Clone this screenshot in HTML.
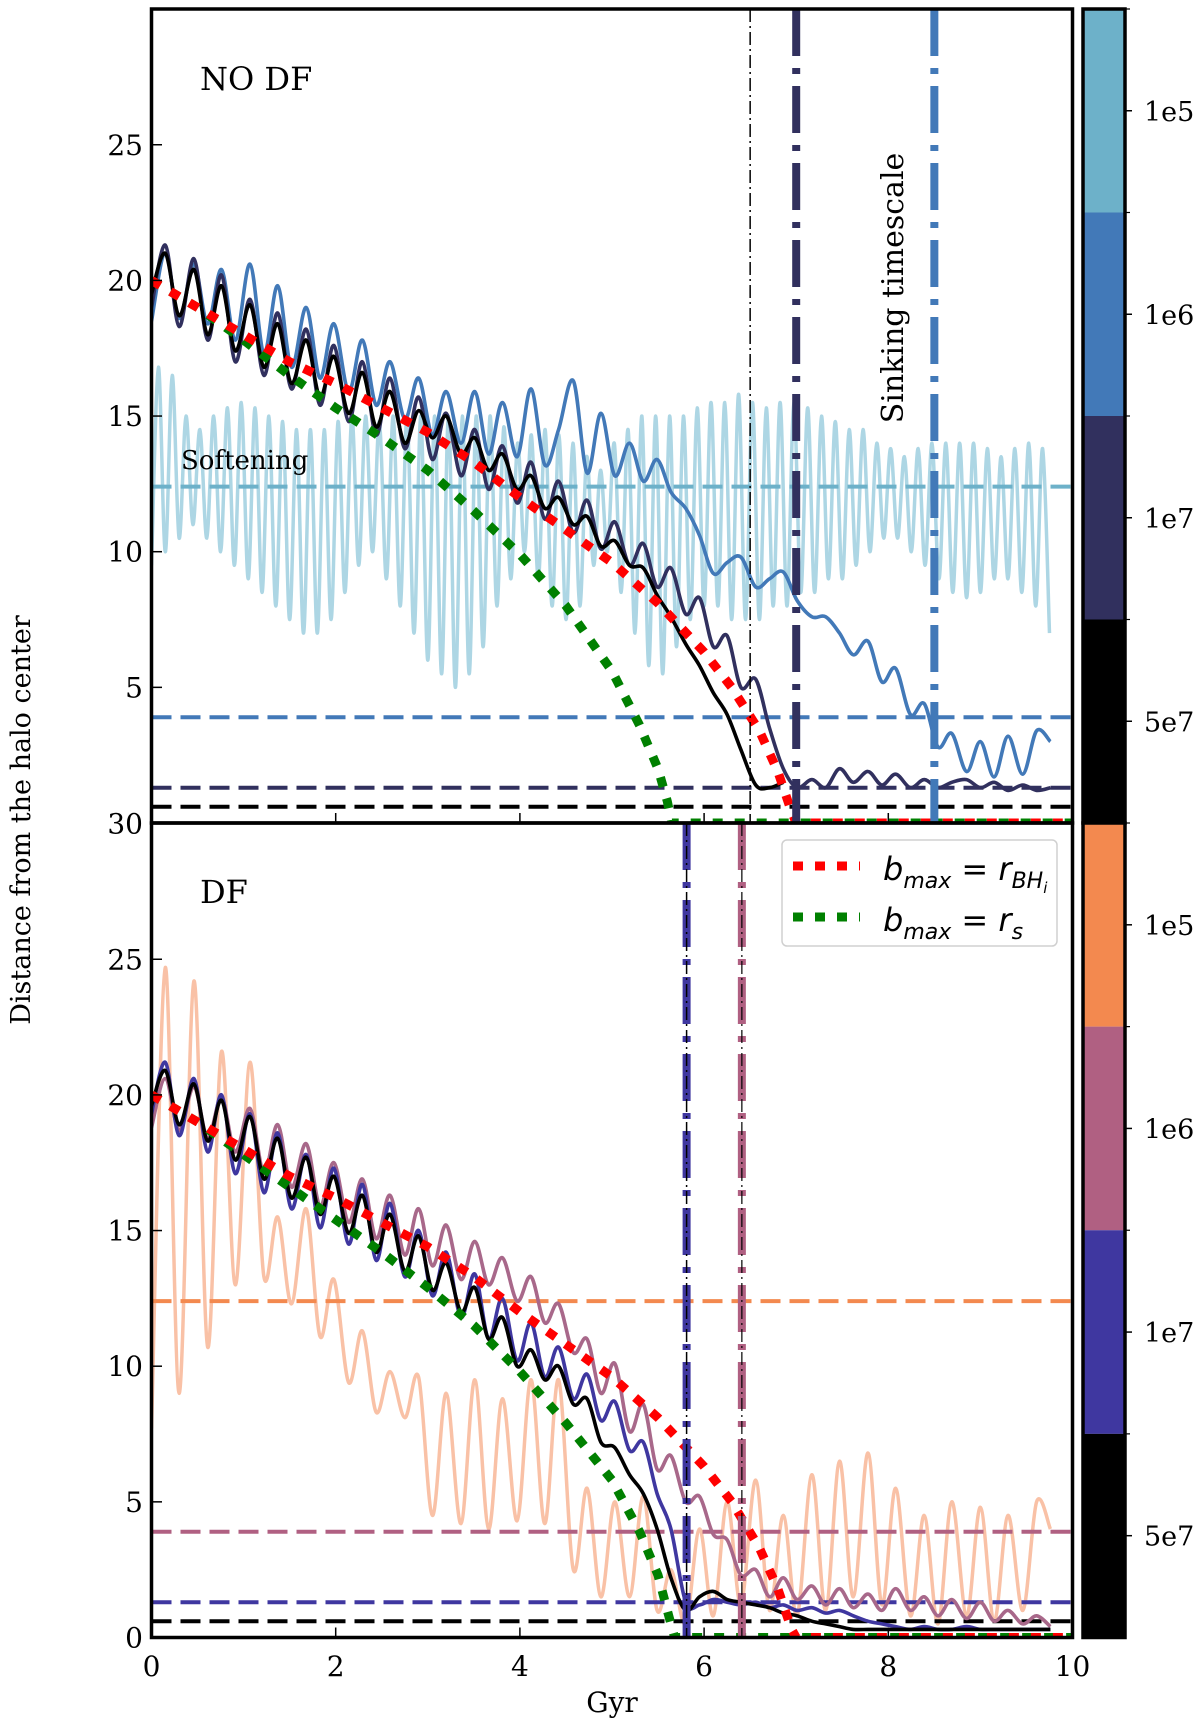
<!DOCTYPE html>
<html><head><meta charset="utf-8"><style>
html,body{margin:0;padding:0;background:#fff;}
svg{display:block;}
text{font-family:"DejaVu Serif","Liberation Serif",serif;fill:#000;}
</style></head><body>
<svg id="chart" width="1200" height="1725" viewBox="0 0 1200 1725" xmlns="http://www.w3.org/2000/svg">
<defs>
<clipPath id="clipTop"><rect x="151.5" y="9" width="921" height="814"/></clipPath>
<clipPath id="clipBot"><rect x="151.5" y="823" width="921" height="814.5"/></clipPath>
</defs>
<g id="topLayer" clip-path="url(#clipTop)"></g>
<g id="botLayer" clip-path="url(#clipBot)"></g>
<g id="axes"></g>

<text x="200" y="90" font-size="32">NO DF</text>
<text x="200" y="903" font-size="32">DF</text>
<text x="181" y="469" font-size="26">Softening</text>
<text x="0" y="0" font-size="30" text-anchor="middle" transform="translate(903,288) rotate(-90)">Sinking timescale</text>
<text x="0" y="0" font-size="27" text-anchor="middle" transform="translate(30,820) rotate(-90)">Distance from the halo center</text>
<text x="612" y="1712" font-size="28" text-anchor="middle">Gyr</text>

<g>
<rect x="782" y="840" width="275" height="106" rx="5" fill="#fff" fill-opacity="0.85" stroke="#d0d0d0" stroke-width="1.5"/>
<line x1="793" y1="866" x2="860" y2="866" stroke="#ff0000" stroke-width="9" stroke-dasharray="10 12"/>
<text x="883" y="880" font-size="32" style="font-family:'DejaVu Sans',sans-serif;font-style:italic">b<tspan font-size="22" dy="8">max</tspan><tspan dy="-8" font-style="normal"> = </tspan>r<tspan font-size="22" dy="8">BH</tspan><tspan font-size="15" dy="5">i</tspan></text>
<line x1="793" y1="917" x2="860" y2="917" stroke="#008000" stroke-width="9" stroke-dasharray="10 12"/>
<text x="883" y="931" font-size="32" style="font-family:'DejaVu Sans',sans-serif;font-style:italic">b<tspan font-size="22" dy="8">max</tspan><tspan dy="-8" font-style="normal"> = </tspan>r<tspan font-size="22" dy="8">s</tspan></text>
</g>
</svg>
<script>
// ---------- data ----------
const xTicks = [0, 2, 4, 6, 8, 10];
const yTicksTop = [5, 10, 15, 20, 25];
const yTicksBot = [0, 5, 10, 15, 20, 25, 30];
const cbLabels = ["1e5", "1e6", "1e7", "5e7"];
const cbTopColors = ["#6db1c9", "#4279b8", "#31305e", "#000000"];
const cbBotColors = ["#f3894f", "#b06082", "#3f37a0", "#000000"];
const softTop = [12.4, 3.9, 1.3, 0.6];
const softBot = [12.4, 3.9, 1.3, 0.6];
const sinkTop = [7.0, 8.5];
const sinkTopThin = 6.5;
const sinkBot = [5.81, 6.41];

// extrema times of orbit oscillations (Gyr)
const oscT = [0,0.15,0.3,0.46,0.61,0.76,0.91,1.07,1.22,1.37,1.52,1.68,1.83,1.98,2.14,2.29,2.44,2.59,2.75,2.9,3.05,3.2,3.36,3.51,3.66,3.81,3.97,4.12,4.27,4.42,4.58,4.73,4.88,5.03,5.19,5.34,5.49,5.64,5.8,5.95,6.1,6.25,6.4,6.56,6.71,6.86,7.01,7.17,7.32,7.47,7.62,7.78,7.93,8.08,8.24,8.39,8.54,8.69,8.85,9.0,9.15,9.3,9.46,9.61,9.76];
const lbStart = 0, lbStep = 0.075;

const lightTopV = [9.5,16.8,10,16.5,10.5,15,11,14.5,10.5,15,10,15.3,9.5,15.5,9,15.3,8.5,15,8,14.8,7.5,14.5,7,14.5,7,14.5,7.5,14.8,8.5,15,9.5,15,10,14.8,9,15,8,15,7,15,6,15,5.5,15,5,15,5.5,15,6.5,15,8,14.6,9,14,10,14.3,9,14.5,8,14.3,7.5,14,8,13.5,9.5,13,10,14,8.5,14.5,7,15,5.8,15,5.5,15,6.5,15,7.5,15.3,8,15.5,8,15.5,7.5,15.8,7.5,15.5,7.5,15.3,8,15.5,8,15.5,8.5,15.3,8.5,15,9,14.8,9,14.5,9.5,14.5,10,14,10.5,13.8,10.5,13.5,10,13.8,9.5,14,9,14,8.5,14,8.3,14,8.5,13.8,9,13.5,9,13.8,8.5,14,8,13.8,7];
const blueTopV = [18.5,21,18.6,20.6,18.4,20.4,17.8,20.6,17.3,19.8,16.8,19,16.4,18.4,15.9,17.8,15.4,17,14.9,16.4,14.3,15.9,14,15.9,13.6,15.5,13.5,16,13.2,14.5,16.3,12.9,15.1,12.8,14,12.6,13.4,12.2,11.6,10.6,9.2,9.6,9.8,8.7,9,9.25,8.2,7.6,7.6,7,6.2,6.7,5.2,5.7,4,4.4,2.8,3.3,1.9,3,1.7,3.2,1.8,3.4,3];
const navyTopV = [19,21.3,18.3,20.8,17.8,20.2,17,19.3,16.5,18.8,16,18.2,15.4,17.6,14.8,17,14.3,16.4,13.8,15.7,13.4,15.1,12.8,14.5,12.3,13.9,11.8,13.3,11.2,12.6,10.7,11.9,10.1,11.1,9.5,10.3,8.7,9.4,7.7,8.3,6.5,6.9,5,5.3,3.5,2,1.3,1.6,1.3,2,1.5,1.9,1.4,1.8,1.3,1.6,1.3,1.5,1.6,1.3,1.5,1.2,1.4,1.2,1.3];
const blackTopV = [19.5,21,18.7,20.4,18,19.8,17.4,19.1,16.8,18.4,16.2,17.8,15.7,17.2,15.1,16.6,14.6,15.9,14,15.2,14.2,15,13.6,14.2,13,13.6,12.3,12.8,11.6,12,11,11.3,10.2,10.4,9.5,9.4,8.4,7.6,6.6,5.8,4.8,4,2.7,1.4,1.3,1.5];
const redTopT = [0,0.5,1,1.5,2,2.5,3,3.5,4,4.5,5,5.5,6,6.3,6.6,6.8,6.95,7.0,10];
const redTopV = [20,19,18,17,16.2,15.3,14.4,13.3,12,10.8,9.6,8.1,6.3,5,3.4,1.9,0.4,0,0];
const greenTopT = [0,0.5,1,1.5,2,2.5,3,3.5,4,4.5,5,5.3,5.5,5.6,5.65,10];
const greenTopV = [20,19,17.8,16.5,15.3,14.2,13,11.5,9.9,8,5.6,3.6,2,0.8,0,0];

const orangeBotV = [7.7,24.7,9,24.2,10.7,21.6,13,21.2,13.3,15.5,12.3,15.8,11.1,13.2,9.4,11.3,8.3,9.8,8.1,9.6,4.5,9,4.2,9.5,4,8.8,4.3,9.5,4.2,9.5,2.5,5.5,1.5,5,1.5,5.2,1,2.5,0.5,4,0.8,5,1.2,5.8,1,4.5,0.8,6,1,6.5,1.5,6.8,1.2,5.5,0.8,4.5,0.5,5,0.8,4.8,0.6,4.5,1,5,4];
const mauveBotV = [18.8,20.6,18.7,20.3,18.4,19.9,17.9,19.5,17.1,18.9,16.6,18.2,15.9,17.5,15.3,16.9,14.7,16.3,14.1,15.8,13.7,15.2,13.2,14.6,13,14,12.4,13.3,11.6,12.3,10.5,11,9,10.1,7.6,8.6,6.2,6.7,5,5.2,3.8,3.6,2.3,2.5,1.5,2.2,1.4,1.9,1.2,1.8,1.1,1.6,1,1.8,1,1.5,0.8,1.4,0.7,1.3,0.6,1,0.5,0.8,0.4];
const indigoBotV = [19.3,21.2,18.5,20.6,17.9,20,17.1,19.3,16.4,18.6,15.8,17.8,15.1,17.3,14.5,16.7,13.9,16,13.3,15,12.6,14.2,11.8,13.4,11,12.5,10.2,11.6,9.6,10.7,8.8,9.7,8,8.7,6.9,7.2,5.3,4,1.3,1.2,1.4,1.3,1.2,1.3,1.1,1.2,1,1.1,0.9,1,0.8,0.6,0.5,0.4,0.3,0.4,0.3,0.3,0.4,0.3,0.3,0.3,0.3,0.3,0.3];
const blackBotV = [19.6,20.9,18.9,20.4,18.3,19.8,17.6,19.2,16.9,18.4,16.2,17.7,15.6,17,14.9,16.3,14.2,15.6,13.5,14.8,12.8,13.8,12,12.9,11,11.8,10,10.6,9.5,10,8.6,8.8,7.2,7,6,5.3,4,2.2,1,1.5,1.7,1.4,1.3,1.2,1.1,0.9,0.8,0.6,0.5,0.4,0.3,0.3,0.3,0.3,0.3,0.3,0.3,0.3,0.3,0.3,0.3,0.3,0.3,0.3,0.3];
const redBotT = [0,0.5,1,1.5,2,2.5,3,3.5,4,4.5,5,5.5,6,6.3,6.6,6.8,6.95,7.0,10];
const redBotV = [20,19,18,17,16.2,15.3,14.4,13.3,12,10.8,9.6,8.1,6.3,5,3.3,1.8,0.3,0,0];
const greenBotT = [0,0.5,1,1.5,2,2.5,3,3.5,4,4.5,5,5.3,5.5,5.6,5.68,10];
const greenBotV = [20,19,17.8,16.6,15.4,14.2,12.9,11.5,9.8,7.9,5.8,3.9,2.3,1,0,0];

// ---------- scales ----------
const X0 = 151.5, XS = 92.1, YU = 27.13;
const TOP0 = 823, BOT0 = 1637.5;
function xS(t){ return X0 + t*XS; }
function yTop(v){ return TOP0 - v*YU; }
function yBot(v){ return BOT0 - v*YU; }
const NS = "http://www.w3.org/2000/svg";
function mk(tag, attrs, parent){ const e=document.createElementNS(NS,tag); for(const k in attrs) e.setAttribute(k,attrs[k]); parent.appendChild(e); return e; }
function smoothPath(pts){
  let d = "M"+pts[0][0].toFixed(1)+","+pts[0][1].toFixed(1);
  for(let i=0;i<pts.length-1;i++){
    const p0=pts[Math.max(0,i-1)], p1=pts[i], p2=pts[i+1], p3=pts[Math.min(pts.length-1,i+2)];
    const c1x=p1[0]+(p2[0]-p0[0])/6, c1y=p1[1]+(p2[1]-p0[1])/6;
    const c2x=p2[0]-(p3[0]-p1[0])/6, c2y=p2[1]-(p3[1]-p1[1])/6;
    d += " C"+c1x.toFixed(1)+","+c1y.toFixed(1)+" "+c2x.toFixed(1)+","+c2y.toFixed(1)+" "+p2[0].toFixed(1)+","+p2[1].toFixed(1);
  }
  return d;
}
function curve(layer, ts, vs, yf, color, w, name, smooth){
  const pts = vs.map((v,i)=>[xS(ts[i]), yf(v)]);
  const d = smooth ? smoothPath(pts) : "M"+pts.map(p=>p[0].toFixed(1)+","+p[1].toFixed(1)).join(" L");
  const p = mk("path",{d:d,fill:"none",stroke:color,"stroke-width":w,"stroke-linejoin":"round"},layer);
  
  
  return p;
}
function dotted(layer, ts, vs, yf, color, name){
  const p = curve(layer, ts, vs, yf, color, 9, name, false);
  p.setAttribute("stroke-dasharray","10 12");
  p.setAttribute("stroke-linejoin","miter");
  return p;
}
function hline(layer, v, yf, color, name){
  const l = mk("line",{x1:151.5,x2:1072.5,y1:yf(v),y2:yf(v),stroke:color,"stroke-width":4,"stroke-dasharray":"20 9"},layer);
  
  
}
function vline(layer, t, y1, y2, color, w, dash, name){
  const l = mk("line",{x1:xS(t),x2:xS(t),y1:y1,y2:y2,stroke:color,"stroke-width":w,"stroke-dasharray":dash},layer);
  
  
}
const lbT = lightTopV.map((v,i)=>lbStart + i*lbStep);
const topL = document.getElementById("topLayer");
const botL = document.getElementById("botLayer");
const axes = document.getElementById("axes");
const thickDash = "47 12 6 12";
const thinDash = "13 4 2 4";
const LW = 3.6;

// ---------- top panel ----------
curve(topL, lbT, lightTopV, yTop, "#add6e4", 3.5, "series-1e5-no-df", true);
hline(topL, softTop[0], yTop, "#6db1c9", "softening-1e5");
hline(topL, softTop[1], yTop, "#4279b8", "softening-1e6");
hline(topL, softTop[2], yTop, "#31305e", "softening-1e7");
hline(topL, softTop[3], yTop, "#000000", "softening-5e7");
curve(topL, oscT, blueTopV, yTop, "#4279b8", LW, "series-1e6-no-df", true);
curve(topL, oscT, navyTopV, yTop, "#31305e", LW, "series-1e7-no-df", true);
curve(topL, oscT, blackTopV, yTop, "#000000", LW, "series-5e7-no-df", true);
dotted(topL, greenTopT, greenTopV, yTop, "#008000", "model-rs-no-df");
dotted(topL, redTopT, redTopV, yTop, "#ff0000", "model-rbh-no-df");
vline(topL, sinkTopThin, 9, 823, "#000", 1.5, thinDash, "sinking-time-5e7");
vline(topL, sinkTop[0], 9, 823, "#31305e", 8, thickDash, "sinking-time-1e7");
vline(topL, sinkTop[1], 9, 823, "#4279b8", 8, thickDash, "sinking-time-1e6");

// ---------- bottom panel ----------
curve(botL, oscT, orangeBotV, yBot, "#f9c1a6", 3.5, "series-1e5-df", true);
hline(botL, softBot[0], yBot, "#f3894f", "softening-1e5-df");
hline(botL, softBot[1], yBot, "#b06082", "softening-1e6-df");
hline(botL, softBot[2], yBot, "#3f37a0", "softening-1e7-df");
hline(botL, softBot[3], yBot, "#000000", "softening-5e7-df");
curve(botL, oscT, mauveBotV, yBot, "#a8688a", LW, "series-1e6-df", true);
curve(botL, oscT, indigoBotV, yBot, "#3f37a0", LW, "series-1e7-df", true);
curve(botL, oscT, blackBotV, yBot, "#000000", LW, "series-5e7-df", true);
dotted(botL, greenBotT, greenBotV, yBot, "#008000", "model-rs-df");
dotted(botL, redBotT, redBotV, yBot, "#ff0000", "model-rbh-df");
vline(botL, sinkBot[0], 823, 1637, "#3f37a0", 8, thickDash, "sinking-time-1e7-df");
vline(botL, sinkBot[0], 823, 1637, "#000", 1.5, thinDash, "sinking-time-5e7-df");
vline(botL, sinkBot[1], 823, 1637, "#b06082", 8, thickDash, "sinking-time-1e6-df");
vline(botL, sinkBot[1], 823, 1637, "#000", 1.2, thinDash, "sinking-time-1e6-df-overlay");

// ---------- axes ----------
[[9,823,"top-panel-frame"],[823,1637.5,"bottom-panel-frame"]].forEach(f=>{
  const r = mk("rect",{x:151.5,y:f[0],width:921,height:f[1]-f[0],fill:"none",stroke:"#000","stroke-width":3.5},axes);
  
  
});
[TOP0, BOT0].forEach((yb,pi)=>{
  xTicks.forEach(t=>{
    const l = mk("line",{x1:xS(t),x2:xS(t),y1:yb,y2:yb-10,stroke:"#000","stroke-width":1.5},axes);
    
    
  });
});
xTicks.forEach(t=>{
  const tx = mk("text",{x:xS(t),y:1676,"font-size":28,"text-anchor":"middle"},axes);
  tx.textContent = String(t);
  
  
});
yTicksTop.forEach(v=>{
  const l = mk("line",{x1:151.5,x2:162,y1:yTop(v),y2:yTop(v),stroke:"#000","stroke-width":1.5},axes);
  
  
  const tx = mk("text",{x:143,y:yTop(v)+10,"font-size":28,"text-anchor":"end"},axes);
  tx.textContent = String(v);
  
  
});
yTicksBot.forEach(v=>{
  const l = mk("line",{x1:151.5,x2:162,y1:yBot(v),y2:yBot(v),stroke:"#000","stroke-width":1.5},axes);
  
  
  const tx = mk("text",{x:143,y:yBot(v)+10,"font-size":28,"text-anchor":"end"},axes);
  tx.textContent = String(v);
  
  
});

// ---------- colorbars ----------
function colorbar(y0, y1, colors, name){
  const g = mk("g",{},axes);
  
  
  const h = (y1-y0)/colors.length;
  colors.forEach((c,i)=>{
    const r = mk("rect",{x:1083,y:y0+i*h,width:42,height:h,fill:c},g);
    
    
    const tk = mk("line",{x1:1125,x2:1132,y1:y0+(i+0.5)*h,y2:y0+(i+0.5)*h,stroke:"#000","stroke-width":1.5},g);
    
    
    const tb = mk("line",{x1:1125,x2:1130,y1:y0+i*h,y2:y0+i*h,stroke:"#000","stroke-width":1.2},g);
    
    
    const tx = mk("text",{x:1144,y:y0+(i+0.5)*h+10,"font-size":27},g);
    tx.textContent = cbLabels[i];
    
    
  });
  const fr = mk("rect",{x:1083,y:y0,width:42,height:y1-y0,fill:"none",stroke:"#000","stroke-width":3.5},g);
  
  
}
colorbar(9, 823, cbTopColors, "colorbar-no-df");
colorbar(823, 1637.5, cbBotColors, "colorbar-df");
</script>
</body></html>
